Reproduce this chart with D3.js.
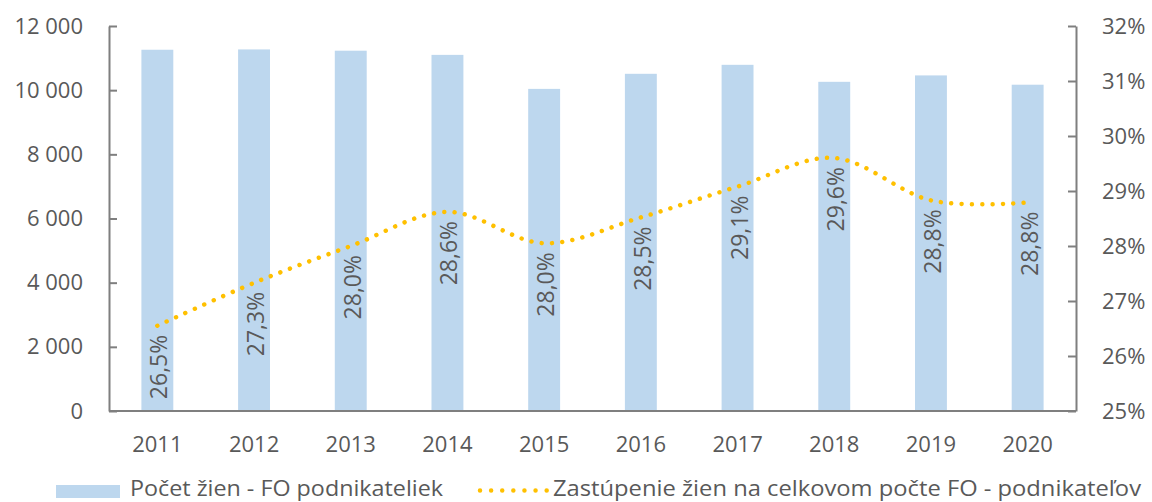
<!DOCTYPE html>
<html>
<head>
<meta charset="utf-8">
<script src="https://cdn.jsdelivr.net/npm/d3@7"></script>
<style>
  body { margin: 0; background: #fff; }
  text { font-family: 'Open Sans', sans-serif; fill: #595959; }
</style>
</head>
<body>
<div id="chart"></div>
<script>
// data
const years = ['2011', '2012', '2013', '2014', '2015', '2016', '2017', '2018', '2019', '2020'];
const womenCount = [11260, 11270, 11230, 11100, 10040, 10510, 10790, 10260, 10460, 10170];
const womenShare = [0.2655, 0.2733, 0.2800, 0.2862, 0.2805, 0.2852, 0.2908, 0.2960, 0.2883, 0.2879];
const shareLabels = ['26,5%', '27,3%', '28,0%', '28,6%', '28,0%', '28,5%', '29,1%', '29,6%', '28,8%', '28,8%'];
const leftTicks = [0, 2000, 4000, 6000, 8000, 10000, 12000];
const rightTicks = [0.25, 0.26, 0.27, 0.28, 0.29, 0.30, 0.31, 0.32];
const legendLabels = ['Počet žien - FO podnikateliek', 'Zastúpenie žien na celkovom počte FO - podnikateľov'];

const width = 1152, height = 502;
const margin = { top: 26, right: 76, bottom: 91, left: 109 };
const axisColor = '#7f7f7f';
const barColor = '#bdd7ee';
const lineColor = '#ffc000';

const svg = d3.select('#chart').append('svg')
  .attr('width', width)
  .attr('height', height);

const x = d3.scaleBand()
  .domain(years)
  .range([margin.left, width - margin.right])
  .paddingInner(0.67)
  .paddingOuter(0.335);

const yLeft = d3.scaleLinear()
  .domain([0, 12000])
  .range([height - margin.bottom, margin.top]);

const yRight = d3.scaleLinear()
  .domain([0.25, 0.32])
  .range([height - margin.bottom, margin.top]);

const fmtNum = d3.format(',');
const fmtThousands = v => fmtNum(v).replace(/,/g, ' ');

// bars
svg.append('g')
  .selectAll('rect')
  .data(years)
  .join('rect')
  .attr('x', d => x(d))
  .attr('width', x.bandwidth())
  .attr('y', (d, i) => yLeft(womenCount[i]))
  .attr('height', (d, i) => yLeft(0) - yLeft(womenCount[i]))
  .attr('fill', barColor);

// axes
const leftAxis = svg.append('g')
  .attr('transform', `translate(${margin.left},0)`)
  .call(d3.axisLeft(yLeft).tickValues(leftTicks).tickSizeInner(-8).tickSizeOuter(0).tickPadding(26).tickFormat(fmtThousands));

const rightAxis = svg.append('g')
  .attr('transform', `translate(${width - margin.right},0)`)
  .call(d3.axisRight(yRight).tickValues(rightTicks).tickSizeInner(-8).tickSizeOuter(0).tickPadding(26).tickFormat(d3.format('.0%')));

const bottomAxis = svg.append('g')
  .attr('transform', `translate(0,${height - margin.bottom})`)
  .call(d3.axisBottom(x).tickSize(0).tickPadding(25));

[leftAxis, rightAxis, bottomAxis].forEach(a => {
  a.select('.domain').attr('stroke', axisColor).attr('stroke-width', 2);
  a.selectAll('.tick line').attr('stroke', axisColor).attr('stroke-width', 2);
  a.selectAll('text').attr('font-size', 22).attr('fill', '#595959').style('font-family', "'Open Sans', sans-serif");
});
bottomAxis.select('.domain').attr('d', `M${margin.left},0H${width - margin.right}`);

// smoothed dotted share line
const line = d3.line()
  .x((d, i) => x(years[i]) + x.bandwidth() / 2)
  .y(d => yRight(d))
  .curve(d3.curveCatmullRom.alpha(0));

svg.append('path')
  .datum(womenShare)
  .attr('d', line)
  .attr('fill', 'none')
  .attr('stroke', lineColor)
  .attr('stroke-width', 4.5)
  .attr('stroke-linecap', 'round')
  .attr('stroke-dasharray', '0.01 10.3');

// rotated data labels under each point
svg.append('g')
  .selectAll('text')
  .data(womenShare)
  .join('text')
  .attr('transform', (d, i) => `translate(${x(years[i]) + x.bandwidth() / 2 + 1},${yRight(d) + 9}) rotate(-90)`)
  .attr('text-anchor', 'end')
  .attr('dominant-baseline', 'central')
  .attr('font-size', 23)
  .text((d, i) => shareLabels[i]);

// legend
const legend = svg.append('g');
legend.append('rect')
  .attr('x', 56).attr('y', 485).attr('width', 64).attr('height', 13)
  .attr('fill', barColor);
legend.append('text')
  .attr('x', 130).attr('y', 496)
  .attr('font-size', 22)
  .attr('textLength', 313)
  .attr('lengthAdjust', 'spacingAndGlyphs')
  .text(legendLabels[0]);
legend.append('line')
  .attr('x1', 480).attr('x2', 547).attr('y1', 490.5).attr('y2', 490.5)
  .attr('stroke', lineColor).attr('stroke-width', 4.5)
  .attr('stroke-linecap', 'round').attr('stroke-dasharray', '0.01 11.1');
legend.append('text')
  .attr('x', 553).attr('y', 496)
  .attr('font-size', 22)
  .attr('textLength', 588)
  .attr('lengthAdjust', 'spacingAndGlyphs')
  .text(legendLabels[1]);
</script>
</body>
</html>
